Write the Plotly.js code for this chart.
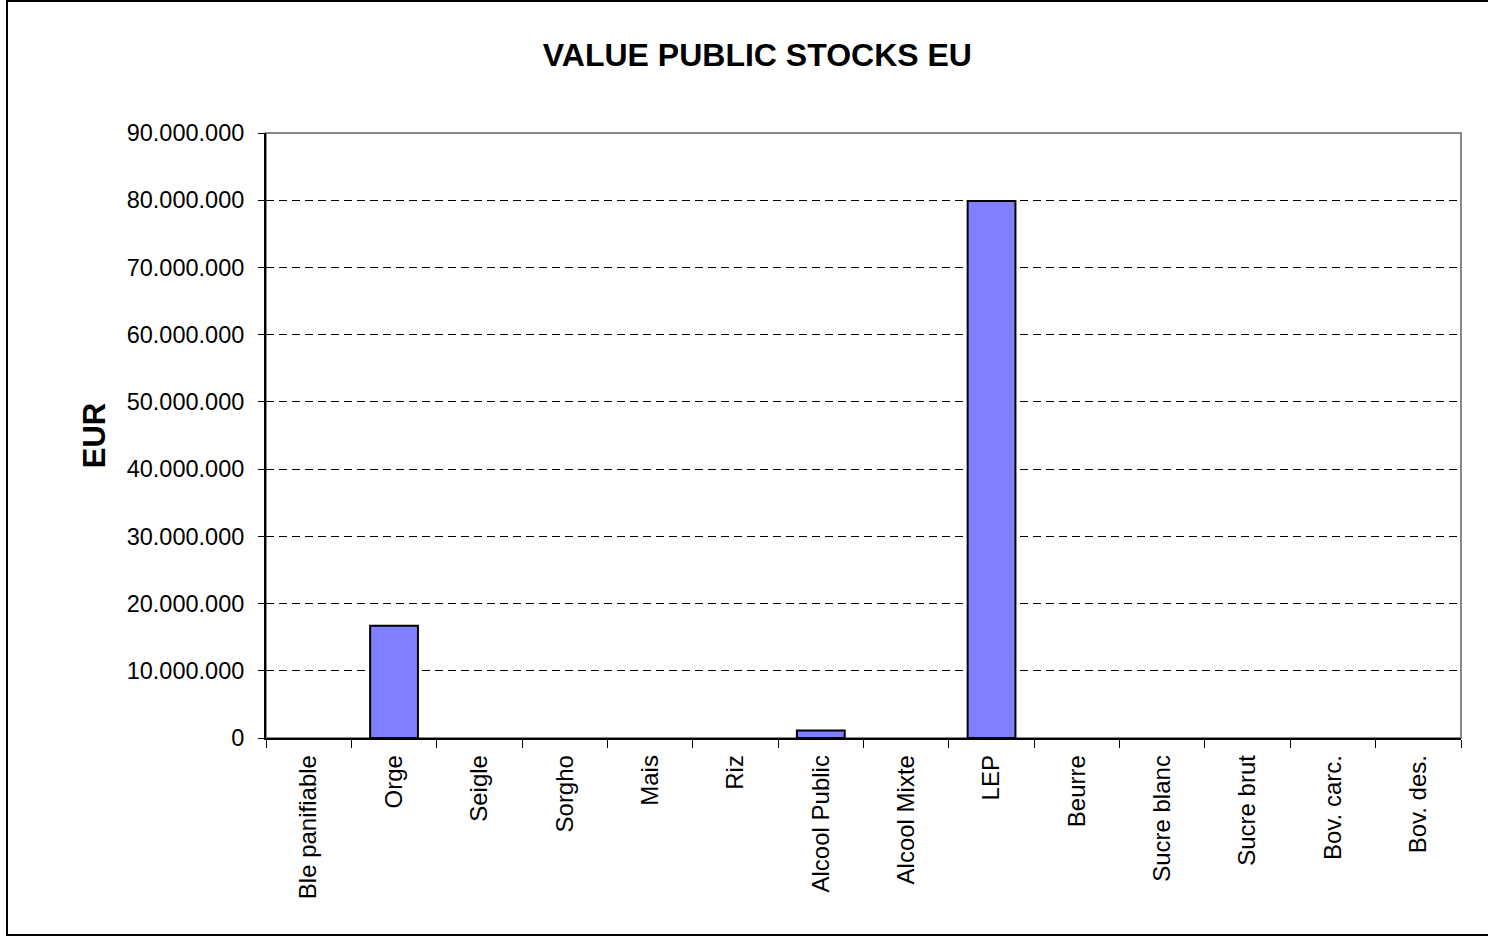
<!DOCTYPE html>
<html>
<head>
<meta charset="utf-8">
<script src="https://cdn.plot.ly/plotly-3.0.1.min.js"></script>
<style>
html,body{margin:0;padding:0;background:#fff;}
#wrap{position:absolute;left:0;top:0;width:1488px;height:936px;}
#frame{position:absolute;left:6px;top:0px;width:1490px;height:936px;border:2px solid #000;box-sizing:border-box;pointer-events:none;}
#chart{width:1488px;height:936px;}
</style>
</head>
<body>
<div id="wrap">
<div id="chart"></div>
<div id="frame"></div>
</div>
<script>
const categories = ["Ble panifiable","Orge","Seigle","Sorgho","Mais","Riz","Alcool Public","Alcool Mixte","LEP","Beurre","Sucre blanc","Sucre brut","Bov. carc.","Bov. des."];
const values = [0, 16700000, 0, 0, 0, 0, 1100000, 0, 79900000, 0, 0, 0, 0, 0];
const yTicks = [0,10000000,20000000,30000000,40000000,50000000,60000000,70000000,80000000,90000000];

const font = "Liberation Sans, Arial, sans-serif";
const lineWidths = values.map(v => v > 0 ? 2 : 0);
Plotly.newPlot('chart', [{
  type: 'bar',
  x: categories,
  y: values,
  marker: {color: '#8080FF', line: {color: '#000', width: lineWidths}},
  hoverinfo: 'none'
}], {
  width: 1488, height: 936,
  margin: {l: 266, r: 27, t: 133, b: 198},
  paper_bgcolor: '#fff', plot_bgcolor: '#fff',
  separators: ',.',
  bargap: 0.44,
  showlegend: false,
  font: {family: font, color: '#000', size: 24},
  title: {text: '<b>VALUE PUBLIC STOCKS EU</b>', font: {family: font, size: 32, color: '#000'}, x: 0.509, xanchor: 'center', y: 0.941, yanchor: 'middle'},
  xaxis: {
    type: 'category',
    tickangle: -90,
    tickson: 'boundaries',
    ticks: 'outside', ticklen: 8, tickcolor: '#000', tickwidth: 1,
    showline: true, linecolor: '#000', linewidth: 1.5,
    showgrid: false, zeroline: false,
    tickfont: {family: font, size: 24, color: '#000'},
    ticklabelstandoff: 6,
    automargin: false
  },
  yaxis: {
    range: [0, 90000000],
    tickvals: yTicks,
    tickformat: ',d',
    ticks: 'outside', ticklen: 6, tickcolor: '#000', tickwidth: 1,
    showline: true, linecolor: '#000', linewidth: 2,
    showgrid: true, gridcolor: '#000', gridwidth: 1, griddash: '8px,5px',
    zeroline: false,
    tickfont: {family: font, size: 23.5, color: '#000'},
    ticklabelstandoff: 9,
    title: {text: '<b>EUR</b>', font: {family: font, size: 31, color: '#000'}, standoff: 12},
    automargin: false
  },
  shapes: [{
    type: 'rect', xref: 'paper', yref: 'paper', x0: 0, x1: 1, y0: 0, y1: 1,
    line: {color: '#888', width: 2}, layer: 'below'
  }]
}, {staticPlot: true});
</script>
</body>
</html>
